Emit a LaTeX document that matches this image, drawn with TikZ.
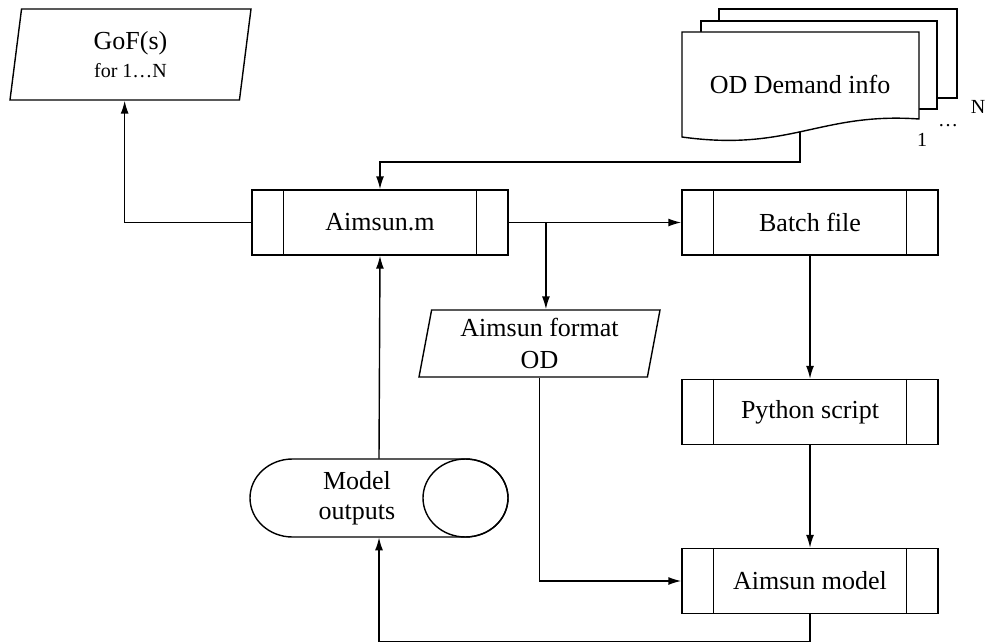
\documentclass[tikz,border=0pt]{standalone}
\usepackage{fontspec}
\setmainfont{Liberation Serif}
\usetikzlibrary{arrows.meta,shapes.geometric}

\tikzset{
  line/.style={line width=0.7pt},
  proc/.style={draw, line, fill=white, minimum width=128pt, minimum height=32.5pt, inner sep=0pt},
  io/.style={trapezium, trapezium left angle=76, trapezium right angle=104,
    trapezium stretches body, draw, line, align=center, inner sep=0pt},
  storebox/.style={minimum width=129pt, minimum height=39pt, inner sep=0pt},
  arr/.style={line, -{Latex[length=6.5pt,width=4pt]}},
  small/.style={font=\fontsize{10}{12}\selectfont, inner sep=0pt},
}

\begin{document}
\begin{tikzpicture}[x=0.5pt, y=-0.5pt, font=\fontsize{13}{15}\selectfont]

        \useasboundingbox (0,0) rectangle (985,642);

        % OD pages
        \draw[line, fill=white] (719,9) rectangle (957,98);
        \draw[line, fill=white] (701,21) rectangle (937,109);
        \draw[line, fill=white] (682,32) -- (919,32) -- (919,119)
            .. controls (820,112) and (790,152) .. (682,137) -- cycle;
        \node (od) at (800,84) {OD Demand info};
        \coordinate (odout) at (800,132);
        \coordinate (odbend) at (380,162);
        \node[small] (lone) at (922,140) {1};
        \node[small] (ldots) at (948,126) {\ldots};
        \node[small] (lN) at (978,107) {N};

        \node[io, minimum width=120.5pt, minimum height=45.5pt] (gof) at (130.5,54.5)
            {GoF(s)\\[-1pt]{\fontsize{10}{12}\selectfont for 1\ldots N}};
        \node[io, minimum width=120.5pt, minimum height=33.5pt] (aod) at (539.5,343.5)
            {Aimsun format\\[1pt]OD};

        \node[proc] (aimsunm) at (380,222.5) {Aimsun.m};
        \node[proc] (batch) at (810,222.5) {Batch file};
        \node[proc] (python) at (810,412) {Python script};
        \node[proc] (model) at (810,581) {Aimsun model};

        \foreach \n in {aimsunm,batch,python,model} {
            \draw[line] ([xshift=16pt]\n.north west) -- ([xshift=16pt]\n.south west);
            \draw[line] ([xshift=-16pt]\n.north east) -- ([xshift=-16pt]\n.south east);
        }

        % stored data
        \node[storebox] (mout) at (379,498) {};
        \draw[line] (465.5,459) -- (292.5,459)
            arc[start angle=90, end angle=270, x radius=21.25pt, y radius=19.5pt]
            -- (465.5,537)
            arc[start angle=-90, end angle=90, x radius=21.25pt, y radius=19.5pt];
        \draw[line] (465.5,498) ellipse[x radius=21.25pt, y radius=19.5pt];
        \node[align=center] (mouttext) at (357,498) {Model\\outputs};

        \draw[arr] (odout) |- (odbend) -- (aimsunm.north);
        \draw[arr] (aimsunm.west) -| (gof.bottom side);
        \draw[arr] (aimsunm.east) -- (batch.west);
        \draw[arr] (aimsunm.east -| aod.top side) -- (aod.top side);
        \draw[arr] (batch.south) -- (python.north);
        \draw[arr] (python.south) -- (model.north);
        \draw[arr] (aod.south) |- (model.west);
        \draw[arr] (model.south) -- ++(0,27) -| (mout.south);
        \draw[arr] (mout.north) -- (aimsunm.south);

    \end{tikzpicture}
\end{document}
